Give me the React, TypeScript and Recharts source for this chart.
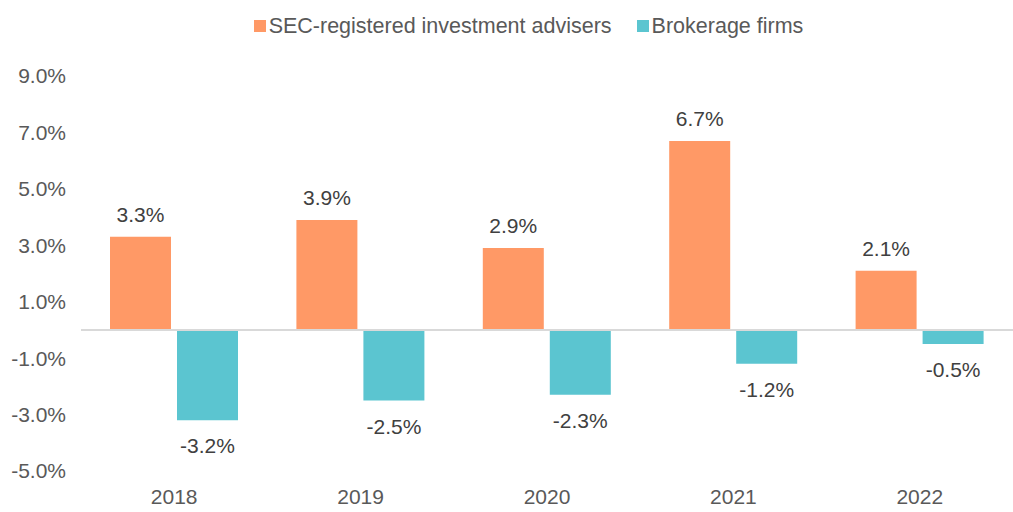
import { BarChart, Bar, XAxis, YAxis, ReferenceLine, Legend, LabelList } from 'recharts'

const years = ['2018', '2019', '2020', '2021', '2022']
const secAdvisers = [3.3, 3.9, 2.9, 6.7, 2.1]
const brokerageFirms = [-3.2, -2.5, -2.3, -1.2, -0.5]
const yTicks = [-5, -3, -1, 1, 3, 5, 7, 9]

const series = [
  { key: 'sec', name: 'SEC-registered investment advisers', color: '#FF9966' },
  { key: 'brokerage', name: 'Brokerage firms', color: '#5BC5D0' },
]

const data = years.map((year, i) => ({
  year,
  sec: secAdvisers[i],
  brokerage: brokerageFirms[i],
}))

const FONT = '"Liberation Sans", Arial, sans-serif'

// puts the label above positive bars and below negative ones
// eslint-disable-next-line @typescript-eslint/no-explicit-any
const ValueLabel = (props: any) => {
  const { x, y, width, height, value } = props
  const top = Math.min(y, y + height)
  const bottom = Math.max(y, y + height)
  const cx = x + width / 2
  const ty = value >= 0 ? top - 15 : bottom + 18
  return (
    <text
      x={cx}
      y={ty}
      textAnchor="middle"
      dominantBaseline={value >= 0 ? 'auto' : 'hanging'}
      fill="#404040"
      fontSize={21}
      fontFamily={FONT}
    >
      {`${Number(value).toFixed(1)}%`}
    </text>
  )
}

const LegendContent = () => (
  <div
    style={{
      display: 'flex',
      justifyContent: 'center',
      gap: 25,
      paddingLeft: 44,
      fontFamily: FONT,
      fontSize: 21.5,
      color: '#595959',
    }}
  >
    {series.map((s) => (
      <div key={s.key} style={{ display: 'flex', alignItems: 'center', gap: 3 }}>
        <span style={{ display: 'inline-block', width: 12, height: 12, background: s.color }} />
        <span>{s.name}</span>
      </div>
    ))}
  </div>
)

export default function App() {
  return (
    <div style={{ position: 'absolute', left: 0, top: 0, background: '#fff' }}>
      <BarChart
        width={1013}
        height={512}
        data={data}
        margin={{ top: 52, right: 0, left: 0, bottom: 0 }}
        barSize={61}
        barGap={6}
      >
        <Legend
          verticalAlign="top"
          align="center"
          content={<LegendContent />}
          wrapperStyle={{ position: 'absolute', top: 14, lineHeight: '24px' }}
        />
        <XAxis
          dataKey="year"
          axisLine={false}
          tickLine={false}
          tickSize={0}
          tickMargin={18}
          height={41}
          tick={{ fill: '#595959', fontSize: 21, fontFamily: FONT }}
        />
        <YAxis
          domain={[-5, 9]}
          ticks={yTicks}
          interval={0}
          width={81}
          axisLine={false}
          tickLine={false}
          tickSize={0}
          tickMargin={15}
          tickFormatter={(v) => `${v.toFixed(1)}%`}
          tick={{ fill: '#595959', fontSize: 21, fontFamily: FONT }}
        />
        <ReferenceLine y={0} stroke="#D9D9D9" strokeWidth={2} />
        {series.map((s) => (
          <Bar key={s.key} dataKey={s.key} name={s.name} fill={s.color} isAnimationActive={false}>
            <LabelList dataKey={s.key} content={<ValueLabel />} />
          </Bar>
        ))}
      </BarChart>
    </div>
  )
}
